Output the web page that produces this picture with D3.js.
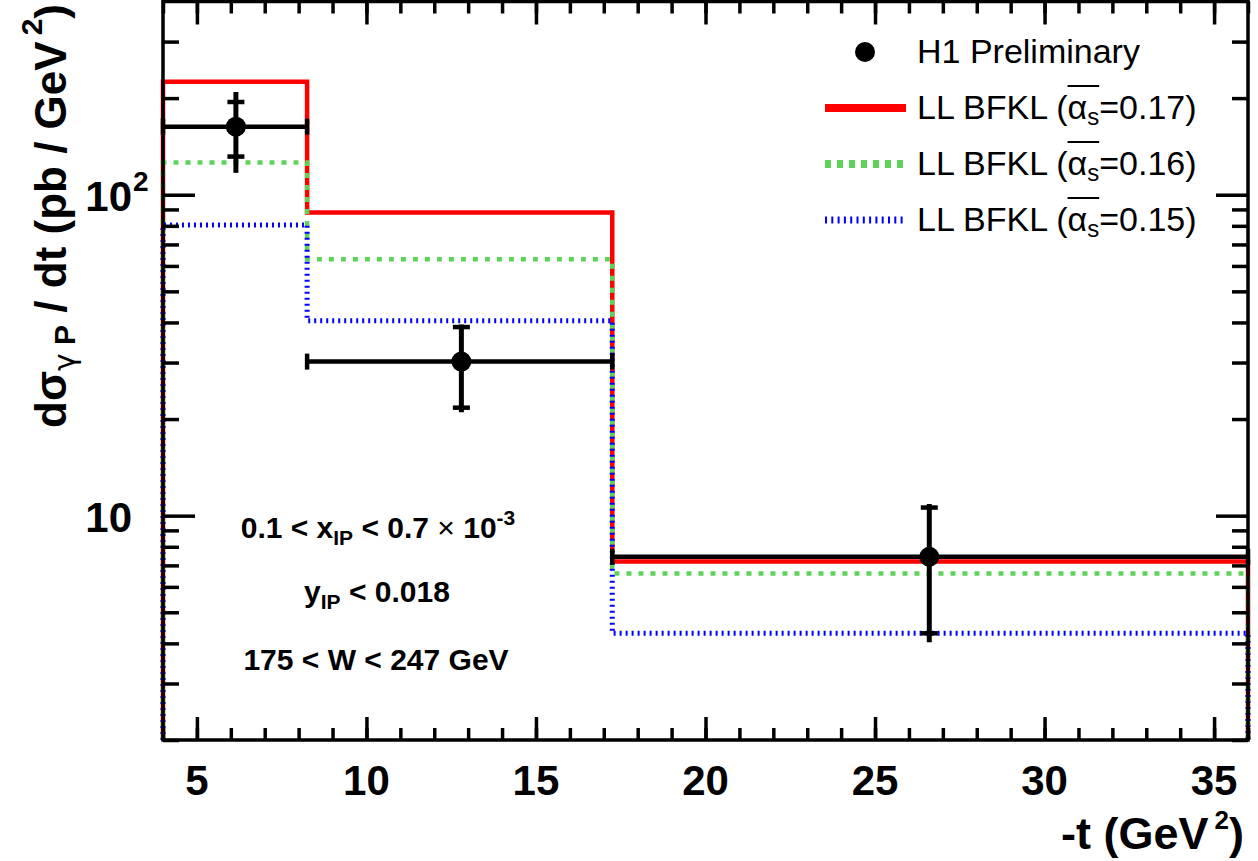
<!DOCTYPE html>
<html>
<head>
<meta charset="utf-8">
<script src="https://cdn.jsdelivr.net/npm/d3@7"></script>
<style>
  html, body { margin: 0; padding: 0; background: #fff; }
  svg { display: block; font-family: "Liberation Sans", Arial, Helvetica, sans-serif; }
</style>
</head>
<body>
<svg id="chart" width="1258" height="861"></svg>
<script>
// bin edges in -t (GeV^2)
const binEdges = [4, 8.25, 17.25, 36]

// LL BFKL predictions per bin (pb / GeV^2)
const bfkl017 = [225, 88, 7.2]
const bfkl016 = [126, 63, 6.6]
const bfkl015 = [80.5, 40.5, 4.3]

// H1 preliminary data points
const dataT = [6.15, 12.8, 26.6]
const dataXsec = [163, 30.2, 7.45]
const statErr = [31.5, 8.5, 3.15]
const totErr = [46, 9.2, 3.42]

// axis ticks
const xMajor = [5, 10, 15, 20, 25, 30, 35]
const xMinor = d3.range(4, 37, 1)
const yMajor = [10, 100]
const yMinor = [2, 3, 4, 5, 6, 7, 8, 9, 20, 30, 40, 50, 60, 70, 80, 90, 200, 300]

const legendItems = [
  { type: 'marker', label: 'H1 Preliminary' },
  { type: 'red', label: '0.17' },
  { type: 'green', label: '0.16' },
  { type: 'blue', label: '0.15' }
]

const frame = { left: 163, right: 1248, top: 1.5, bottom: 740 }

const svg = d3.select('#chart')

const x = d3.scaleLinear().domain([4, 36]).range([frame.left, frame.right])
const y = d3.scaleLog().domain([2, 400]).range([frame.bottom, frame.top])

const styles = {
  red: { color: '#ff0000', width: 4.5, dash: null, legWidth: 8, legDash: null },
  green: { color: '#5ed35a', width: 4.5, dash: '5 7', legWidth: 8, legDash: '6 6' },
  blue: { color: '#0000ff', width: 5, dash: '2 4', legWidth: 7, legDash: '2 4.3' }
}

// step histograms
const stepLine = d3.line().x(d => x(d[0])).y(d => y(d[1]))

function steps(vals) {
  const pts = [[binEdges[0], 2]]
  vals.forEach((v, i) => {
    pts.push([binEdges[i], v])
    pts.push([binEdges[i + 1], v])
  })
  pts.push([binEdges[binEdges.length - 1], 2])
  return pts
}

const hists = [['red', bfkl017], ['green', bfkl016], ['blue', bfkl015]]
hists.forEach(([key, vals]) => {
  const s = styles[key]
  svg.append('path')
    .attr('d', stepLine(steps(vals)))
    .attr('fill', 'none')
    .attr('stroke', s.color)
    .attr('stroke-width', s.width)
    .attr('stroke-dasharray', s.dash)
})

// data points with errors
const data = dataT.map((t, i) => ({
  t, v: dataXsec[i], lo: binEdges[i], hi: binEdges[i + 1], stat: statErr[i], tot: totErr[i]
}))

const pts = svg.append('g').attr('stroke', '#000').attr('fill', '#000')

data.forEach(d => {
  const cy = y(d.v)
  // horizontal bin-width bar
  pts.append('line')
    .attr('x1', x(d.lo)).attr('x2', x(d.hi))
    .attr('y1', cy).attr('y2', cy)
    .attr('stroke-width', 4.5)
  ;[d.lo, d.hi].forEach(e => {
    pts.append('line')
      .attr('x1', x(e)).attr('x2', x(e))
      .attr('y1', cy - 8).attr('y2', cy + 8)
      .attr('stroke-width', 4.5)
  })
  // total error line
  pts.append('line')
    .attr('x1', x(d.t)).attr('x2', x(d.t))
    .attr('y1', y(d.v + d.tot)).attr('y2', y(d.v - d.tot))
    .attr('stroke-width', 5)
  // stat error caps
  ;[d.v + d.stat, d.v - d.stat].forEach(e => {
    pts.append('line')
      .attr('x1', x(d.t) - 8.5).attr('x2', x(d.t) + 8.5)
      .attr('y1', y(e)).attr('y2', y(e))
      .attr('stroke-width', 4.5)
  })
  pts.append('circle')
    .attr('cx', x(d.t)).attr('cy', cy).attr('r', 10)
    .attr('stroke', 'none')
})

// axes: ticks drawn inward on all four sides
const W = frame.right - frame.left
const H = frame.bottom - frame.top

function axisG(axis, tx, ty) {
  const g = svg.append('g')
    .attr('transform', `translate(${tx},${ty})`)
    .call(axis)
  g.select('.domain').remove()
  g.selectAll('text').remove()
  g.selectAll('line').attr('stroke', '#000').attr('stroke-width', 3.5)
  return g
}

axisG(d3.axisBottom(x).tickValues(xMinor).tickSize(-12), 0, frame.bottom)
axisG(d3.axisBottom(x).tickValues(xMajor).tickSize(-23), 0, frame.bottom)
axisG(d3.axisTop(x).tickValues(xMinor).tickSize(-12), 0, frame.top)
axisG(d3.axisTop(x).tickValues(xMajor).tickSize(-23), 0, frame.top)
axisG(d3.axisLeft(y).tickValues(yMinor).tickSize(-16), frame.left, 0)
axisG(d3.axisLeft(y).tickValues(yMajor).tickSize(-32), frame.left, 0)
axisG(d3.axisRight(y).tickValues(yMinor).tickSize(-16), frame.right, 0)
axisG(d3.axisRight(y).tickValues(yMajor).tickSize(-32), frame.right, 0)

svg.append('rect')
  .attr('x', frame.left).attr('y', frame.top)
  .attr('width', W).attr('height', H)
  .attr('fill', 'none')
  .attr('stroke', '#000')
  .attr('stroke-width', 3.5)

// x tick labels
svg.append('g')
  .selectAll('text')
  .data(xMajor)
  .join('text')
    .attr('x', d => x(d))
    .attr('y', 795)
    .attr('text-anchor', 'middle')
    .attr('font-size', 42)
    .attr('font-weight', 'bold')
    .text(d => d)

// y tick labels: 10 and 10^2
yMajor.forEach(v => {
  const exp = Math.round(Math.log10(v))
  svg.append('text')
    .attr('x', 132)
    .attr('y', y(v) + 16)
    .attr('text-anchor', 'end')
    .attr('font-size', 42)
    .attr('font-weight', 'bold')
    .text('10')
  if (exp > 1) {
    svg.append('text')
      .attr('x', 133)
      .attr('y', y(v) - 4)
      .attr('font-size', 28)
      .attr('font-weight', 'bold')
      .text(exp)
  }
})

// x title
const xt = svg.append('text')
  .attr('x', 1244).attr('y', 849)
  .attr('text-anchor', 'end')
  .attr('font-size', 45)
  .attr('font-weight', 'bold')
xt.append('tspan').text('-t (GeV')
xt.append('tspan').attr('font-size', 26).attr('dy', -20).attr('dx', 6).text('2')
xt.append('tspan').attr('dy', 20).text(')')

// y title
const yt = svg.append('text')
  .attr('transform', 'translate(66,428) rotate(-90)')
  .attr('font-size', 44)
  .attr('font-weight', 'bold')
yt.append('tspan').text('dσ')
yt.append('tspan').attr('font-size', 30).attr('dy', 9)
  .attr('font-family', '"DejaVu Sans", sans-serif').attr('font-weight', 'normal').text('γ')
yt.append('tspan').attr('font-size', 30).text(' P')
yt.append('tspan').attr('dy', -9).text(' / dt (pb / GeV')
yt.append('tspan').attr('font-size', 30).attr('dy', -24).attr('dx', 6).text('2')
yt.append('tspan').attr('dy', 24).text(')')

// cut annotations
const notes = svg.append('g')
  .attr('font-size', 30)
  .attr('font-weight', 'bold')
  .attr('text-anchor', 'middle')

const n1 = notes.append('text').attr('x', 378).attr('y', 538)
n1.append('tspan').text('0.1 < x')
n1.append('tspan').attr('font-size', 21).attr('dy', 7).text('IP')
n1.append('tspan').attr('dy', -7).text(' < 0.7 ')
n1.append('tspan').attr('font-weight', 'normal').text('×')
n1.append('tspan').text(' 10')
n1.append('tspan').attr('font-size', 21).attr('dy', -13).text('-3')

const n2 = notes.append('text').attr('x', 377).attr('y', 602)
n2.append('tspan').text('y')
n2.append('tspan').attr('font-size', 21).attr('dy', 7).text('IP')
n2.append('tspan').attr('dy', -7).text(' < 0.018')

notes.append('text').attr('x', 376).attr('y', 670).text('175 < W < 247 GeV')

// legend
const leg = svg.append('g')
legendItems.forEach((item, i) => {
  const cy = 52 + i * 56
  if (item.type === 'marker') {
    leg.append('circle').attr('cx', 865).attr('cy', cy).attr('r', 10).attr('fill', '#000')
  } else {
    const s = styles[item.type]
    leg.append('line')
      .attr('x1', 825).attr('x2', 906)
      .attr('y1', cy).attr('y2', cy)
      .attr('stroke', s.color)
      .attr('stroke-width', s.legWidth)
      .attr('stroke-dasharray', s.legDash)
  }
  const t = leg.append('text')
    .attr('x', 917).attr('y', cy + 11)
    .attr('font-size', 34)
  if (item.type === 'marker') {
    t.text(item.label)
  } else {
    t.append('tspan').text('LL BFKL (')
    t.append('tspan').text('α')
    t.append('tspan').attr('font-size', 24).attr('dy', 6).text('s')
    t.append('tspan').attr('dy', -6).text('=' + item.label + ')')
    const a = t.node().getExtentOfChar(9)
    const s = t.node().getExtentOfChar(10)
    leg.append('line')
      .attr('x1', a.x).attr('x2', s.x + s.width)
      .attr('y1', cy - 22).attr('y2', cy - 22)
      .attr('stroke', '#000').attr('stroke-width', 2)
  }
})
</script>
</body>
</html>
